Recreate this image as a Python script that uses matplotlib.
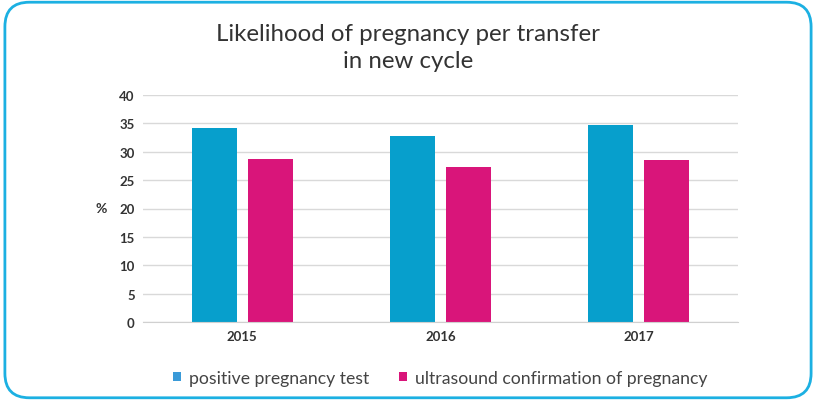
import matplotlib.pyplot as plt
from matplotlib.patches import FancyBboxPatch
import numpy as np

# Likelihood of pregnancy per transfer in new cycle
years = ["2015", "2016", "2017"]
positive_test = [34.2, 32.8, 34.7]
ultrasound = [28.7, 27.3, 28.6]
series_labels = ["positive pregnancy test", "ultrasound confirmation of pregnancy"]

blue = '#079fcc'
pink = '#d9157a'

plt.rcParams['font.family'] = ['Lato', 'DejaVu Sans']

fig = plt.figure(figsize=(8.16, 4.02), dpi=100)
fig.patch.set_facecolor('white')

# rounded frame around the whole chart
frame = FancyBboxPatch((0.006, 0.008), 0.988, 0.984, boxstyle='round,pad=0,rounding_size=0.03',
                       transform=fig.transFigure, facecolor='none', edgecolor='#1cb0e2',
                       linewidth=2, mutation_aspect=8.16 / 4.02, zorder=5)
fig.patches.append(frame)

ax = fig.add_axes([143 / 816, 1 - 323 / 402, (738 - 143) / 816, (323 - 96) / 402])
x = np.arange(len(years))
w = 0.227
off = 0.141
ax.bar(x - off, positive_test, width=w, color=blue, zorder=2, label=series_labels[0])
ax.bar(x + off, ultrasound, width=w, color=pink, zorder=2, label=series_labels[1])

ax.set_xlim(-0.5, 2.5)
ax.set_ylim(0, 40)
ax.set_yticks(range(0, 41, 5))
ax.set_xticks(x)
ax.set_xticklabels(years)
ax.grid(axis='y', color='#d9d9d9', linewidth=1, zorder=0)
for s in ['top', 'right', 'left']:
    ax.spines[s].set_visible(False)
ax.spines['bottom'].set_color('#d0d0d0')
ax.tick_params(axis='both', length=0, labelsize=9.5, colors='#333333', pad=6)
for lbl in ax.get_xticklabels() + ax.get_yticklabels():
    lbl.set_fontweight('bold')
ax.set_ylabel('%', rotation=0, fontsize=10, fontweight='bold', color='#333333', labelpad=4, va='center')
ax.yaxis.set_label_coords(-0.07, 0.5)

fig.text(0.5, 1 - 48 / 402, 'Likelihood of pregnancy per transfer\nin new cycle', ha='center',
         va='center', fontsize=17.3, color='#333333', linespacing=1.35)

leg = ax.legend(loc='center', bbox_to_anchor=(0.5, -0.245), ncol=2, frameon=False,
                fontsize=12.7, handlelength=0.45, handleheight=0.45, handletextpad=0.45,
                columnspacing=1.7, labelcolor='#444444')
leg.legend_handles[0].set_facecolor('#3a9ad8')

fig.savefig('out.png', dpi=100)
